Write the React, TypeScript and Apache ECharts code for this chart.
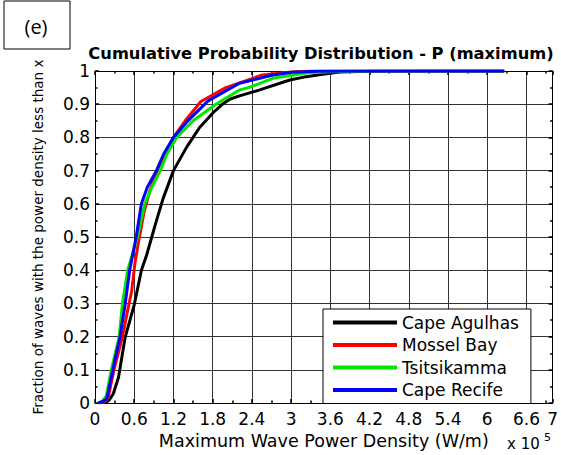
import React, { useEffect, useRef } from "react";
import * as echarts from "echarts";

// ---- data (x in units of 1e5 W/m, y = cumulative fraction) ----
const seriesNames = ["Cape Agulhas", "Mossel Bay", "Tsitsikamma", "Cape Recife"];
const seriesColors = ["#000000", "#ff0000", "#00e600", "#0000ff"];

const agulhasX = [0.15, 0.22, 0.28, 0.36, 0.46, 0.6, 0.71, 0.79, 0.92, 1.04, 1.2, 1.4, 1.5, 1.6, 1.81, 1.95, 2.06, 2.21, 2.52, 2.98, 3.23, 3.48, 3.74, 4.2, 5.0, 6.26];
const agulhasY = [0, 0.01, 0.028, 0.078, 0.197, 0.296, 0.4, 0.446, 0.536, 0.615, 0.7, 0.77, 0.8, 0.83, 0.875, 0.9, 0.915, 0.925, 0.943, 0.973, 0.983, 0.99, 0.997, 0.999, 1, 1];

const mosselX = [0.08, 0.15, 0.2, 0.29, 0.42, 0.5, 0.56, 0.61, 0.67, 0.75, 0.84, 0.95, 1.07, 1.2, 1.38, 1.62, 2.0, 2.3, 2.56, 3.0, 3.33, 6.26];
const mosselY = [0, 0.005, 0.015, 0.1, 0.2, 0.28, 0.336, 0.42, 0.49, 0.575, 0.64, 0.7, 0.75, 0.8, 0.85, 0.908, 0.95, 0.97, 0.988, 0.997, 1, 1];

const tsitsX = [0.05, 0.12, 0.17, 0.25, 0.37, 0.42, 0.5, 0.65, 0.76, 0.87, 1.0, 1.1, 1.25, 1.5, 1.85, 2.21, 2.35, 2.72, 3.23, 3.6, 4.2, 6.26];
const tsitsY = [0, 0.008, 0.02, 0.1, 0.2, 0.3, 0.4, 0.5, 0.6, 0.65, 0.7, 0.75, 0.8, 0.85, 0.9, 0.943, 0.95, 0.978, 0.994, 0.998, 1, 1];

const recifeX = [0.05, 0.12, 0.18, 0.27, 0.38, 0.46, 0.53, 0.63, 0.71, 0.8, 0.94, 1.05, 1.2, 1.42, 1.73, 2.0, 2.21, 2.52, 2.72, 3.02, 3.4, 4.0, 6.26];
const recifeY = [0, 0.005, 0.013, 0.098, 0.197, 0.296, 0.4, 0.5, 0.6, 0.65, 0.7, 0.75, 0.8, 0.85, 0.91, 0.94, 0.963, 0.978, 0.988, 0.996, 0.999, 1, 1];

const seriesXs = [agulhasX, mosselX, tsitsX, recifeX];
const seriesYs = [agulhasY, mosselY, tsitsY, recifeY];

// axis ranges / ticks
const X_MIN = 0;
const X_MAX = 7;
const X_STEP = 0.6;
const Y_MIN = 0;
const Y_MAX = 1;
const Y_STEP = 0.1;

const titleText = "Cumulative Probability Distribution - P (maximum)";
const xName = "Maximum Wave Power Density (W/m)";
const yName = "Fraction of waves with the power density less than x";
const panelLabel = "(e)";
const scaleBase = "x 10";
const scaleExp = "5";

const FONT = "DejaVu Sans";

export default function App() {
  const ref = useRef<HTMLDivElement>(null);

  useEffect(() => {
    if (!ref.current) return;
    const chart = echarts.init(ref.current, undefined, { renderer: "svg" });

    const boxAxis = {
      type: "value",
      axisLine: { show: true, onZero: false, lineStyle: { color: "#000", width: 1 } },
      axisTick: { show: true, inside: true, length: 4, lineStyle: { color: "#000", width: 1.5 } },
      minorTick: { show: true, splitNumber: 2, length: 2.5, lineStyle: { color: "#000", width: 1.5 } },
    };

    const xCommon = { ...boxAxis, min: X_MIN, max: X_MAX, interval: X_STEP };
    const yCommon = { ...boxAxis, min: Y_MIN, max: Y_MAX, interval: Y_STEP };

    const series = seriesNames.map((name, i) => ({
      name,
      type: "line",
      data: seriesXs[i].map((x, j) => [x, seriesYs[i][j]]),
      showSymbol: false,
      symbol: "none",
      lineStyle: { color: seriesColors[i], width: 3 },
      itemStyle: { color: seriesColors[i] },
      z: 3 + i,
    }));

    chart.setOption({
      animation: false,
      backgroundColor: "#ffffff",
      title: {
        text: titleText,
        left: 321,
        top: 45,
        textAlign: "center",
        padding: 0,
        textStyle: { fontFamily: FONT, fontWeight: "bold", fontSize: 16.3, color: "#000" },
      },
      grid: { left: 95, right: 5, top: 71, bottom: 49, containLabel: false },
      legend: {
        data: seriesNames,
        orient: "vertical",
        left: 323,
        top: 309,
        icon: "rect",
        itemWidth: 64,
        itemHeight: 4,
        itemGap: 5.5,
        padding: [5, 12, 5, 10],
        borderColor: "#000",
        borderWidth: 1,
        backgroundColor: "#fff",
        selectedMode: false,
        textStyle: { fontFamily: FONT, fontSize: 17, color: "#000" },
      },
      xAxis: [
        {
          ...xCommon,
          position: "bottom",
          name: xName,
          nameLocation: "middle",
          nameGap: 24,
          nameTextStyle: { fontFamily: FONT, fontSize: 17.5, color: "#000" },
          axisLabel: { show: true, margin: 7, fontFamily: FONT, fontSize: 17, color: "#000", showMaxLabel: true, showMinLabel: true },
          splitLine: { show: true, lineStyle: { color: "#333333", width: 1 } },
        },
        {
          ...xCommon,
          position: "top",
          axisLabel: { show: false },
          splitLine: { show: false },
        },
      ],
      yAxis: [
        {
          ...yCommon,
          position: "left",
          name: yName,
          nameLocation: "middle",
          nameGap: 50,
          nameRotate: 90,
          nameTextStyle: { fontFamily: FONT, fontSize: 13.5, color: "#000" },
          axisLabel: { show: true, margin: 5, fontFamily: FONT, fontSize: 17, color: "#000" },
          splitLine: { show: true, lineStyle: { color: "#333333", width: 1 } },
        },
        {
          ...yCommon,
          position: "right",
          axisLabel: { show: false },
          splitLine: { show: false },
        },
      ],
      series,
      graphic: [
        {
          type: "rect",
          shape: { x: 4, y: 1, width: 66, height: 48 },
          style: { fill: "#fff", stroke: "#000", lineWidth: 1 },
        },
        {
          type: "text",
          x: 36,
          y: 26,
          style: { text: panelLabel, fontFamily: "Open Sans", fontSize: 20, fill: "#000", align: "center", verticalAlign: "middle" },
        },
        {
          type: "text",
          x: 507,
          y: 444,
          style: { text: scaleBase, fontFamily: FONT, fontSize: 15, fill: "#000", align: "left", verticalAlign: "middle" },
        },
        {
          type: "text",
          x: 544,
          y: 437,
          style: { text: scaleExp, fontFamily: FONT, fontSize: 11, fill: "#000", align: "left", verticalAlign: "middle" },
        },
      ],
    });

    return () => {
      chart.dispose();
    };
  }, []);

  return (
    <div
      ref={ref}
      style={{ position: "absolute", left: 0, top: 0, width: 561, height: 455, background: "#fff" }}
    />
  );
}
